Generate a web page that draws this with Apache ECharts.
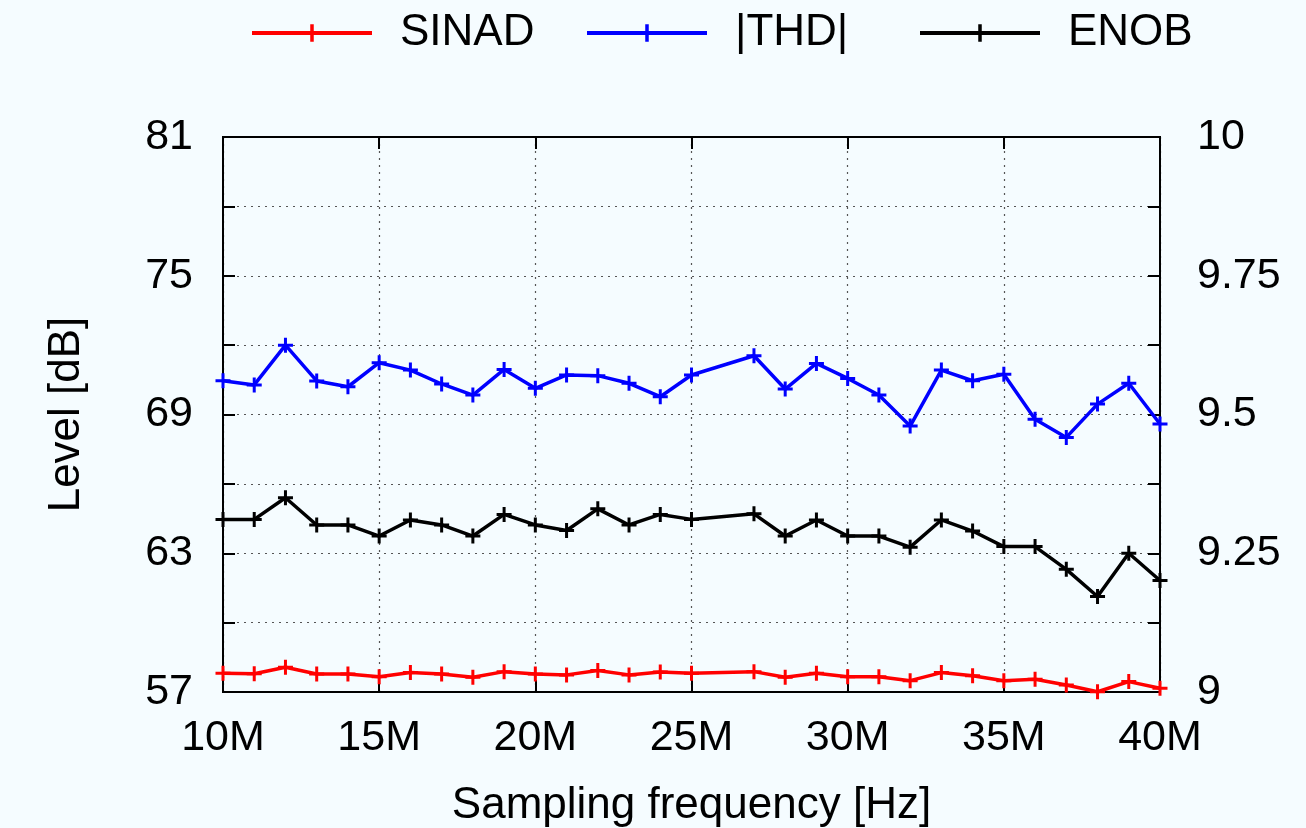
<!DOCTYPE html>
<html>
<head>
<meta charset="utf-8">
<script src="https://cdn.jsdelivr.net/npm/echarts@6/dist/echarts.min.js"></script>
<style>
html,body{margin:0;padding:0;background:#f5fcff;}
#chart{width:1306px;height:828px;}
</style>
</head>
<body>
<div id="chart"></div>
<script>
// Sampling frequency in MHz (26M is absent in the reference)
const freqMHz = [10,11,12,13,14,15,16,17,18,19,20,21,22,23,24,25,27,28,29,30,31,32,33,34,35,36,37,38,39,40];
const sinad = [57.81,57.79,58.07,57.78,57.78,57.66,57.84,57.78,57.64,57.88,57.78,57.74,57.93,57.74,57.86,57.81,57.88,57.64,57.81,57.66,57.66,57.49,57.84,57.70,57.49,57.55,57.30,57.01,57.45,57.16];
const thd = [70.46,70.28,72.00,70.45,70.20,71.24,70.92,70.32,69.84,70.95,70.13,70.71,70.68,70.35,69.77,70.71,71.54,70.10,71.21,70.56,69.84,68.50,70.92,70.46,70.74,68.79,68.01,69.45,70.35,68.59];
const enob = [9.311,9.311,9.350,9.301,9.301,9.281,9.310,9.301,9.281,9.320,9.301,9.291,9.330,9.301,9.320,9.311,9.321,9.281,9.310,9.281,9.281,9.261,9.310,9.290,9.262,9.262,9.221,9.172,9.250,9.201];
const seriesNames = ['SINAD','|THD|','ENOB'];
const seriesColors = ['#ff0000','#0000ff','#000000'];

const plus = 'path://M4,0H6V4H10V6H6V10H4V6H0V4H4Z';
const font = "'Liberation Sans', Arial, Helvetica, sans-serif";
const pair = arr => arr.map((v,i)=>[freqMHz[i]*1e6, v]);

const chart = echarts.init(document.getElementById('chart'), null, {renderer:'canvas'});

function mkSeries(name, data, color, yIdx){
  return {
    name, type:'line', data: pair(data), yAxisIndex: yIdx,
    symbol: plus, symbolSize: 15, showSymbol: true, clip: false,
    lineStyle:{color, width:3.5},
    itemStyle:{color, borderWidth:0},
    emphasis:{disabled:true},
    z: 3
  };
}

const legendPos = [250, 585, 918];
const legends = seriesNames.map((n,i)=>({
  data:[n], left: legendPos[i], top: 11, padding: 0, itemWidth: 120, itemHeight: 22,
  lineStyle:{width:4},
  textStyle:{fontSize:44, fontFamily:font, color:'#000', padding:[0,0,0,23]}, selectedMode:false
}));

const axisLbl = {fontSize:43, fontFamily:font, color:'#000'};
const nameStyle = {fontSize:44, fontFamily:font, color:'#000'};

chart.setOption({
  animation:false,
  backgroundColor:'#f5fcff',
  legend: legends,
  grid:{left:223, right:146, top:137, bottom:136, show:true, borderColor:'#000', borderWidth:2, backgroundColor:'transparent', containLabel:false, outerBoundsMode:'none'},
  xAxis:[{
    type:'value', min:10e6, max:40e6, interval:5e6,
    name:'Sampling frequency [Hz]', nameLocation:'middle', nameGap:92,
    nameTextStyle:nameStyle,
    axisLine:{show:true, lineStyle:{color:'#000', width:2}},
    axisTick:{show:true, inside:true, length:12, lineStyle:{color:'#000', width:2}},
    axisLabel:Object.assign({margin:25, formatter:v=>(v/1e6)+'M'}, axisLbl),
    splitLine:{show:true, lineStyle:{color:'#555', type:[2,5], width:1.2}}
  },{
    type:'value', min:10e6, max:40e6, interval:5e6, position:'top',
    axisLine:{show:true, lineStyle:{color:'#000', width:2}},
    axisTick:{show:true, inside:true, length:12, lineStyle:{color:'#000', width:2}},
    axisLabel:{show:false}, splitLine:{show:false}
  }],
  yAxis:[{
    type:'value', min:57, max:81, interval:3,
    name:'Level [dB]', nameLocation:'middle', nameGap:134,
    nameTextStyle:nameStyle,
    axisLine:{show:true, lineStyle:{color:'#000', width:2}},
    axisTick:{show:true, inside:true, length:12, lineStyle:{color:'#000', width:2}},
    axisLabel:Object.assign({margin:30, formatter:v=>((v-57)%6===0? String(v):'')}, axisLbl),
    splitLine:{show:true, lineStyle:{color:'#555', type:[2,5], width:1.2}}
  },{
    type:'value', min:9, max:10, interval:0.125, position:'right',
    axisLine:{show:true, lineStyle:{color:'#000', width:2}},
    axisTick:{show:true, inside:true, length:12, lineStyle:{color:'#000', width:2}},
    axisLabel:Object.assign({margin:37, formatter:v=>(Math.abs(v*4-Math.round(v*4))<1e-6? String(+v.toFixed(2)):'')}, axisLbl),
    splitLine:{show:false}
  }],
  series:[
    mkSeries(seriesNames[0], sinad, seriesColors[0], 0),
    mkSeries(seriesNames[1], thd, seriesColors[1], 0),
    mkSeries(seriesNames[2], enob, seriesColors[2], 1)
  ]
});
</script>
</body>
</html>
